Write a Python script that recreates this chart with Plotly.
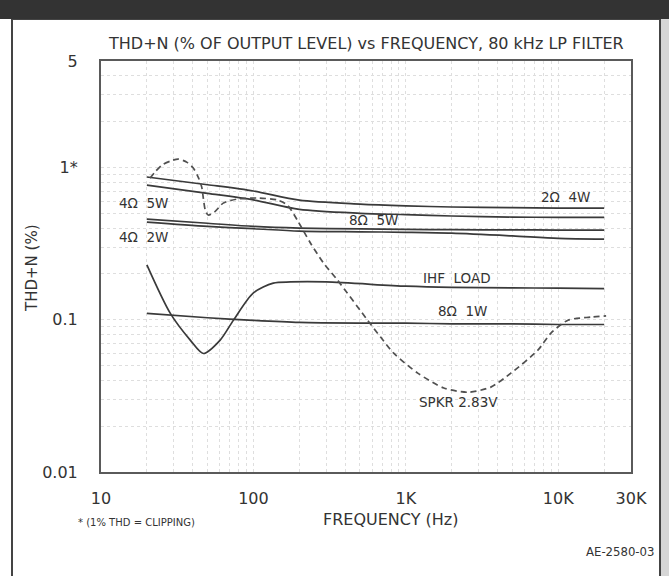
import plotly.graph_objects as go
import numpy as np

# ---------------- data ----------------
freq_main = [20, 50, 100, 200, 500, 1000, 2000, 5000, 10000, 20000]
thd_2ohm_4w = [0.865, 0.77, 0.70, 0.61, 0.575, 0.56, 0.55, 0.545, 0.54, 0.54]
thd_4ohm_5w = [0.766, 0.676, 0.612, 0.53, 0.50, 0.49, 0.48, 0.472, 0.47, 0.47]
thd_8ohm_5w = [0.458, 0.43, 0.41, 0.40, 0.395, 0.392, 0.39, 0.389, 0.388, 0.388]
thd_4ohm_2w = [0.438, 0.41, 0.396, 0.382, 0.378, 0.375, 0.37, 0.355, 0.342, 0.338]
thd_8ohm_1w = [0.11, 0.103, 0.099, 0.096, 0.095, 0.095, 0.094, 0.094, 0.093, 0.093]

freq_ihf = [20, 28.5, 38.5, 47, 60.5, 74, 100, 135, 175, 300, 1000, 2000, 5000, 10000, 20000]
thd_ihf = [0.229, 0.110, 0.0735, 0.060, 0.0735, 0.0994, 0.150, 0.174, 0.177, 0.177,
           0.166, 0.163, 0.162, 0.161, 0.160]

freq_spkr = [21, 22.6, 25.2, 28.4, 32.1, 36.7, 40.3, 43.4, 45.8, 46.9, 48.3, 50.5, 55.5,
             63.4, 78.4, 106, 144, 167, 194, 237, 288, 356, 561, 683, 832, 1196, 1773,
             2550, 3610, 4890, 7350, 8950, 11580, 16400, 20600]
thd_spkr = [0.851, 0.933, 1.04, 1.10, 1.135, 1.08, 0.99, 0.865, 0.743, 0.630, 0.525, 0.487,
            0.509, 0.583, 0.620, 0.630, 0.611, 0.566, 0.451, 0.318, 0.236, 0.182, 0.0993,
            0.0769, 0.0603, 0.0446, 0.0356, 0.0334, 0.0361, 0.0446, 0.0631, 0.0817, 0.0993,
            0.104, 0.106]

x_tick_vals = [10, 100, 1000, 10000, 30000]
x_tick_text = ["10", "100", "1K", "10K", "30K"]
y_tick_vals = [0.01, 0.1, 1, 5]
y_tick_text = ["0.01", "0.1", "1*", "5"]

curve_labels = ["4Ω  5W", "4Ω  2W", "2Ω  4W", "8Ω  5W", "IHF  LOAD", "8Ω  1W", "SPKR 2.83V"]

# ---------------- figure ----------------
W, H = 669, 576
L, R, T, B = 101, 38, 61, 104
pw, ph = W - L - R, H - T - B

def px(xp):
    return (xp - L) / pw

def py(yp):
    return (H - B - yp) / ph

ink = "#3a3a3a"
fig = go.Figure()

solid = [(freq_main, thd_2ohm_4w), (freq_main, thd_4ohm_5w), (freq_main, thd_8ohm_5w),
         (freq_main, thd_4ohm_2w), (freq_ihf, thd_ihf), (freq_main, thd_8ohm_1w)]
for fx, fy in solid:
    fig.add_trace(go.Scatter(x=fx, y=fy, mode="lines",
                             line=dict(color=ink, width=1.7, shape="spline", smoothing=0.8),
                             showlegend=False, hoverinfo="skip"))
fig.add_trace(go.Scatter(x=freq_spkr, y=thd_spkr, mode="lines",
                         line=dict(color="#505050", width=1.7, dash="6px,4px", shape="spline", smoothing=0.7),
                         showlegend=False, hoverinfo="skip"))

# minor grid values
xgrid = [m * 10 ** e for e in range(1, 5) for m in range(1, 10) if m * 10 ** e <= 30000]
ygrid = [m * 10 ** e for e in range(-2, 1) for m in range(1, 10)] + [2, 3, 4, 5]

font_main = "DejaVu Sans, sans-serif"

fig.update_xaxes(type="log", range=[1, np.log10(30000)],
                 tickvals=xgrid,
                 ticktext=[x_tick_text[x_tick_vals.index(v)] if v in x_tick_vals else "" for v in xgrid],
                 showgrid=True, gridcolor="#dedede", griddash="dot", gridwidth=1,
                 showline=True, mirror=True, linecolor="#5a5a5a", linewidth=2,
                 ticks="", ticklabelstandoff=11, zeroline=False,
                 tickfont=dict(family=font_main, size=16, color="#333"))
fig.update_yaxes(type="log", range=[-2, np.log10(5)],
                 tickvals=ygrid,
                 ticktext=[y_tick_text[y_tick_vals.index(v)] if v in y_tick_vals else "" for v in ygrid],
                 showgrid=True, gridcolor="#dedede", griddash="dot", gridwidth=1,
                 showline=True, mirror=True, linecolor="#5a5a5a", linewidth=2,
                 ticks="", ticklabelstandoff=18, zeroline=False,
                 tickfont=dict(family=font_main, size=16, color="#333"))

shapes = [
    dict(type="rect", xref="paper", yref="paper", x0=px(12), x1=px(660), y0=py(585), y1=py(19),
         line=dict(color="#444", width=2), fillcolor="rgba(0,0,0,0)", layer="below"),
    dict(type="rect", xref="paper", yref="paper", x0=px(661), x1=px(672), y0=py(585), y1=py(19),
         line=dict(width=0), fillcolor="#d6d6d6", layer="below"),
    dict(type="rect", xref="paper", yref="paper", x0=px(-5), x1=px(675), y0=py(19), y1=py(-5),
         line=dict(width=0), fillcolor="#333333", layer="above"),
]

ann = []
def add_text(text, x, y, size, angle=0, family=font_main, color="#333"):
    ann.append(dict(text=text, x=x, y=y, xref="paper", yref="paper", showarrow=False, textangle=angle,
                    xanchor="center", yanchor="middle", font=dict(family=family, size=size, color=color)))

add_text("THD+N (% OF OUTPUT LEVEL) vs FREQUENCY, 80 kHz LP FILTER", px(366), py(43), 16)
add_text("THD+N (%)", px(32), py(268), 15, angle=-90)
add_text("FREQUENCY (Hz)", px(390), py(519), 16)
add_text("* (1% THD = CLIPPING)", px(136), py(522), 10)
add_text("AE-2580-03", px(620), py(551), 13, family="Liberation Sans Narrow, DejaVu Sans Condensed, sans-serif")

label_pos = [(143, 203), (143, 237), (565, 197), (373, 220), (457, 278), (462, 311), (458, 402)]
for txt, (xp, yp) in zip(curve_labels, label_pos):
    add_text(txt, px(xp), py(yp), 13.5)

fig.update_layout(width=W, height=H, margin=dict(l=L, r=R, t=T, b=B),
                  paper_bgcolor="white", plot_bgcolor="white",
                  shapes=shapes, annotations=ann, showlegend=False)

fig.write_html("out.html")
